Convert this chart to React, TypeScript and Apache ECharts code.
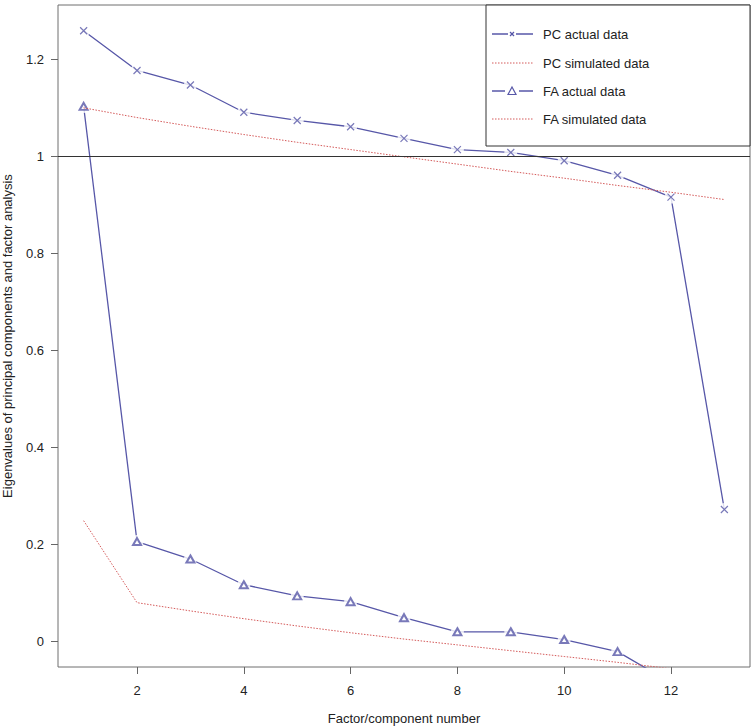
import React, { useEffect, useRef } from "react";
import * as echarts from "echarts";

const components = [1, 2, 3, 4, 5, 6, 7, 8, 9, 10, 11, 12, 13];
const pcActual = [1.259, 1.177, 1.147, 1.091, 1.074, 1.061, 1.037, 1.014, 1.008, 0.991, 0.961, 0.916, 0.272];
const pcSimulated = [1.1, 1.08, 1.062, 1.045, 1.029, 1.014, 0.999, 0.984, 0.969, 0.955, 0.94, 0.926, 0.911];
const faActual = [1.103, 0.206, 0.17, 0.117, 0.094, 0.082, 0.049, 0.02, 0.02, 0.004, -0.021, -0.085];
const faSimulated = [0.249, 0.08, 0.063, 0.047, 0.032, 0.018, 0.005, -0.007, -0.019, -0.031, -0.043, -0.056];
const xTicks = [2, 4, 6, 8, 10, 12];
const yTicks = [0, 0.2, 0.4, 0.6, 0.8, 1, 1.2];
const referenceLevel = 1;
const legendNames = ["PC actual data", "PC simulated data", "FA actual data", "FA simulated data"];
const xAxisTitle = "Factor/component number";
const yAxisTitle = "Eigenvalues of principal components and factor analysis";

const BLUE = "#5757a8";
const RED = "#d45a5a";
const GREY = "#6e6e6e";
const TICK = "#666";
const FONT = "'Liberation Sans', Arial, sans-serif";
const CROSS = "path://M0,0L10,10M10,0L0,10";

const pairs = (vals: number[]) => vals.map((v, i) => [components[i], v]);

export default function App() {
  const ref = useRef<HTMLDivElement>(null);
  useEffect(() => {
    if (!ref.current) return;
    const chart = echarts.init(ref.current, undefined, { renderer: "svg" });
    const lx = 492, lx2 = 533, tx = 543;
    const rows = [34, 63, 91, 119];
    const option: any = {
      animation: false,
      backgroundColor: "#fff",
      grid: {
        left: 58, right: 2, top: 5, bottom: 61,
        outerBoundsMode: "none", containLabel: false,
        show: true, borderColor: GREY, borderWidth: 1, backgroundColor: "transparent",
      },
      xAxis: {
        type: "value", min: 0.52, max: 13.48,
        name: xAxisTitle, nameLocation: "middle", nameGap: 45,
        nameTextStyle: { fontFamily: FONT, fontSize: 13, color: "#222" },
        axisLine: { show: false, onZero: false },
        splitLine: { show: false },
        axisTick: { show: true, length: 7, lineStyle: { color: TICK, width: 1 }, customValues: xTicks },
        axisLabel: { fontFamily: FONT, fontSize: 13, color: "#222", margin: 17, customValues: xTicks },
      },
      yAxis: {
        type: "value", min: -0.0526, max: 1.312,
        name: yAxisTitle, nameLocation: "middle", nameGap: 44,
        nameTextStyle: { fontFamily: FONT, fontSize: 13, color: "#222" },
        axisLine: { show: false, onZero: false },
        splitLine: { show: false },
        axisTick: { show: true, length: 7, lineStyle: { color: TICK, width: 1 }, customValues: yTicks },
        axisLabel: {
          fontFamily: FONT, fontSize: 13, color: "#222", margin: 14, customValues: yTicks,
          formatter: (v: number) => String(Math.round(v * 10) / 10),
        },
      },
      series: [
        { type: "line", data: pairs(pcActual), showSymbol: false, symbol: "none", lineStyle: { color: BLUE, width: 1.3 }, z: 1, silent: true },
        { type: "line", data: pairs(faActual), showSymbol: false, symbol: "none", lineStyle: { color: BLUE, width: 1.3 }, z: 1, silent: true },
        { type: "scatter", data: pairs(pcActual), symbol: "circle", symbolSize: 13, itemStyle: { color: "#fff" }, z: 2, silent: true },
        { type: "scatter", data: pairs(faActual), symbol: "circle", symbolSize: 13, itemStyle: { color: "#fff" }, z: 2, silent: true },
        { type: "scatter", data: pairs(pcActual), symbol: CROSS, symbolSize: 7, itemStyle: { color: "rgba(0,0,0,0)", borderColor: BLUE, borderWidth: 1.2 }, z: 3, silent: true },
        { type: "scatter", data: pairs(faActual), symbol: "emptyTriangle", symbolSize: [8, 7], itemStyle: { color: BLUE, borderColor: BLUE, borderWidth: 1.1 }, z: 3, silent: true },
        {
          type: "line", data: pairs(pcSimulated), symbol: "none", lineStyle: { color: RED, width: 1, type: [1.5, 1.5] }, z: 4, silent: true,
          markLine: {
            silent: true, symbol: "none", label: { show: false },
            lineStyle: { color: "#333", width: 1.2, type: "solid" },
            data: [{ yAxis: referenceLevel }],
          },
        },
        { type: "line", data: pairs(faSimulated), symbol: "none", lineStyle: { color: RED, width: 1, type: [1.5, 1.5] }, z: 4, silent: true },
      ],
      graphic: [
        { type: "rect", shape: { x: 486, y: 5, width: 264, height: 141 }, style: { fill: "#fff", stroke: "#333", lineWidth: 1 }, z: 10 },
        { type: "line", shape: { x1: lx, y1: rows[0], x2: lx2, y2: rows[0] }, style: { stroke: BLUE, lineWidth: 1.3 }, z: 11 },
        { type: "rect", shape: { x: 508, y: rows[0] - 4, width: 8, height: 8 }, style: { fill: "#fff" }, z: 11 },
        { type: "polyline", shape: { points: [[510, rows[0] - 2], [514, rows[0] + 2]] }, style: { stroke: BLUE, lineWidth: 1.3 }, z: 12 },
        { type: "polyline", shape: { points: [[514, rows[0] - 2], [510, rows[0] + 2]] }, style: { stroke: BLUE, lineWidth: 1.3 }, z: 12 },
        { type: "line", shape: { x1: lx, y1: rows[1], x2: lx2, y2: rows[1] }, style: { stroke: RED, lineWidth: 1, lineDash: [1.5, 1.5] }, z: 11 },
        { type: "line", shape: { x1: lx, y1: rows[2], x2: lx2, y2: rows[2] }, style: { stroke: BLUE, lineWidth: 1.3 }, z: 11 },
        { type: "rect", shape: { x: 505, y: rows[2] - 6, width: 14, height: 12 }, style: { fill: "#fff" }, z: 11 },
        { type: "polygon", shape: { points: [[512, rows[2] - 4], [516, rows[2] + 3.5], [508, rows[2] + 3.5]] }, style: { fill: "#fff", stroke: BLUE, lineWidth: 1.2 }, z: 12 },
        { type: "line", shape: { x1: lx, y1: rows[3], x2: lx2, y2: rows[3] }, style: { stroke: RED, lineWidth: 1, lineDash: [1.5, 1.5] }, z: 11 },
        ...legendNames.map((n, i) => ({
          type: "text", x: tx, y: rows[i], z: 12,
          style: { text: n, fontFamily: FONT, fontSize: 13, fill: "#222", verticalAlign: "middle", align: "left" },
        })),
      ],
    };
    chart.setOption(option);
    return () => chart.dispose();
  }, []);
  return <div ref={ref} style={{ position: "fixed", left: 0, top: 0, width: 752, height: 728 }} />;
}
